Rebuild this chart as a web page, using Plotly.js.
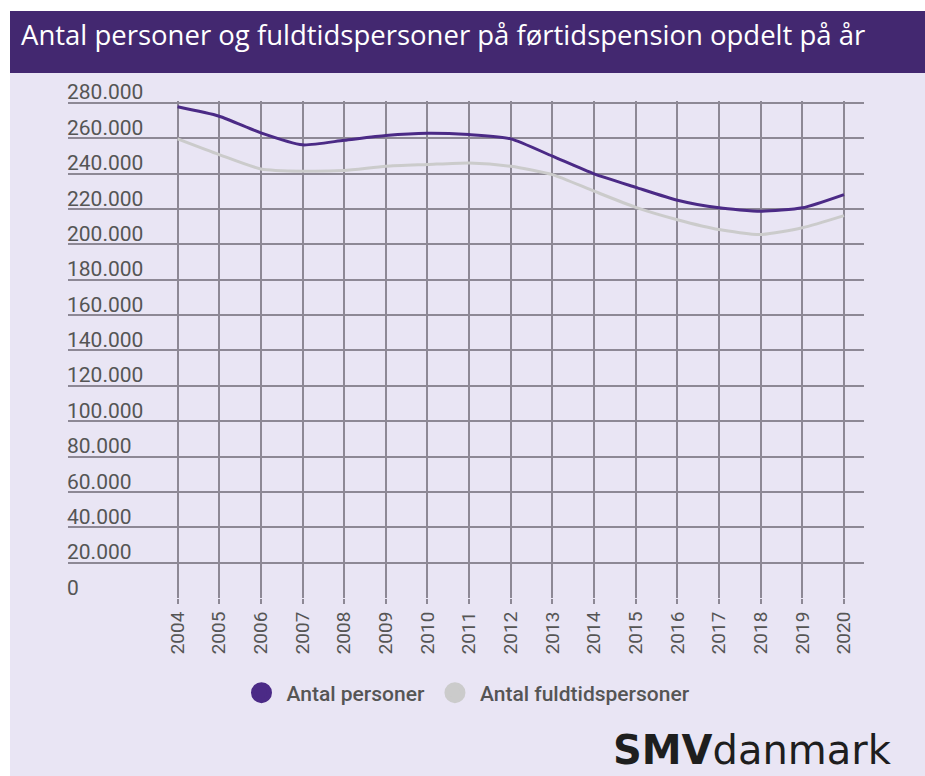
<!DOCTYPE html>
<html>
<head>
<meta charset="utf-8">
<script src="https://cdn.plot.ly/plotly-3.0.1.min.js"></script>
<style>
html,body{margin:0;padding:0;background:#ffffff;}
#chart{position:absolute;left:10px;top:11px;width:915px;height:765px;}
</style>
</head>
<body>
<div id="chart"></div>
<script>
// ---- data ----
const years = [2004,2005,2006,2007,2008,2009,2010,2011,2012,2013,2014,2015,2016,2017,2018,2019,2020];
const antalPersoner = [277700,272400,263000,256200,258800,261500,262800,262000,259600,249800,239800,232200,224900,220600,218700,220600,228100];
const antalFuldtidspersoner = [259600,250700,242600,241300,241700,244100,245100,246000,244100,239400,230000,220900,213900,208300,205500,209300,216200];
const yTickVals = [0,20000,40000,60000,80000,100000,120000,140000,160000,180000,200000,220000,240000,260000,280000];
const seriesNames = ['Antal personer','Antal fuldtidspersoner'];
const titleText = 'Antal personer og fuldtidspersoner på førtidspension opdelt på år';

// ---- styling ----
const purple = '#4b2a86';
const grey = '#cbcbcb';
const gridCol = '#8d8895';
const txtCol = '#555555';
const bg = '#e9e5f4';

// plot area geometry in div pixels
const W = 915, H = 765;
const mL = 58, mR = 61, mT = 90, mB = 178;
const pw = W - mL - mR, ph = H - mT - mB;
const px = v => (v - mL) / pw;          // div x -> paper x
const py = v => (H - mB - v) / ph;      // div y -> paper y

const traces = [
  {x: years, y: antalPersoner, type: 'scatter', mode: 'lines', name: seriesNames[0],
   line: {color: purple, width: 3, shape: 'spline', smoothing: 0.6}, showlegend: false, hoverinfo: 'x+y'},
  {x: years, y: antalFuldtidspersoner, type: 'scatter', mode: 'lines', name: seriesNames[1],
   line: {color: grey, width: 3, shape: 'spline', smoothing: 0.6}, showlegend: false, hoverinfo: 'x+y'},
  {x: [null], y: [null], type: 'scatter', mode: 'markers', name: seriesNames[0],
   marker: {color: purple, size: 16, line: {color: purple, width: 5}}},
  {x: [null], y: [null], type: 'scatter', mode: 'markers', name: seriesNames[1],
   marker: {color: grey, size: 16, line: {color: grey, width: 5}}}
];

const layout = {
  width: W, height: H,
  margin: {l: mL, r: mR, t: mT, b: mB, pad: 0},
  paper_bgcolor: bg, plot_bgcolor: bg,
  separators: ',.',
  font: {family: 'Roboto, Arial, sans-serif', color: txtCol},
  title: {
    text: titleText,
    font: {family: '"Open Sans", "Noto Sans", sans-serif', size: 27.5, color: '#ffffff'},
    xref: 'container', yref: 'container',
    x: 11 / W, xanchor: 'left',
    y: 1 - 24 / H, yanchor: 'middle'
  },
  xaxis: {
    range: [2001.37, 2020.48],
    tickmode: 'array', tickvals: years, ticktext: years.map(String),
    tickangle: -90,
    tickfont: {family: 'Roboto, Arial, sans-serif', size: 19, color: txtCol},
    showgrid: true, gridcolor: gridCol, gridwidth: 1.5,
    ticks: 'outside', ticklen: 5, tickcolor: gridCol, tickwidth: 1.5,
    showline: false, zeroline: false, fixedrange: true
  },
  yaxis: {
    range: [0, 281000],
    tickmode: 'array', tickvals: yTickVals,
    tickformat: ',d',
    ticklabelposition: 'inside top',
    ticklabeloverflow: 'allow',
    ticklabelshift: 4,
    ticklabelstandoff: -4,
    tickfont: {family: 'Roboto, Arial, sans-serif', size: 21, color: txtCol},
    showgrid: true, gridcolor: gridCol, gridwidth: 1.5,
    ticks: '', showline: false, zeroline: false, fixedrange: true
  },
  legend: {
    orientation: 'h', x: 0.5, xanchor: 'center', y: py(682), yanchor: 'middle',
    font: {family: 'Roboto, Arial, sans-serif', size: 21, color: txtCol, weight: 500},
    bgcolor: 'rgba(0,0,0,0)', itemwidth: 40
  },
  shapes: [
    {type: 'rect', xref: 'paper', yref: 'paper', layer: 'below',
     x0: px(0), x1: px(W), y0: py(62), y1: py(0),
     fillcolor: '#432870', line: {width: 0}}
  ],
  annotations: [
    {xref: 'paper', yref: 'paper', x: px(884), y: py(764), xanchor: 'right', yanchor: 'bottom',
     text: '<b>SMV</b>danmark', showarrow: false,
     font: {family: '"DejaVu Sans", sans-serif', size: 40, color: '#1e1e1e'}}
  ],
  showlegend: true,
  hovermode: 'closest'
};

Plotly.newPlot('chart', traces, layout, {displayModeBar: false, responsive: false});
</script>
</body>
</html>
